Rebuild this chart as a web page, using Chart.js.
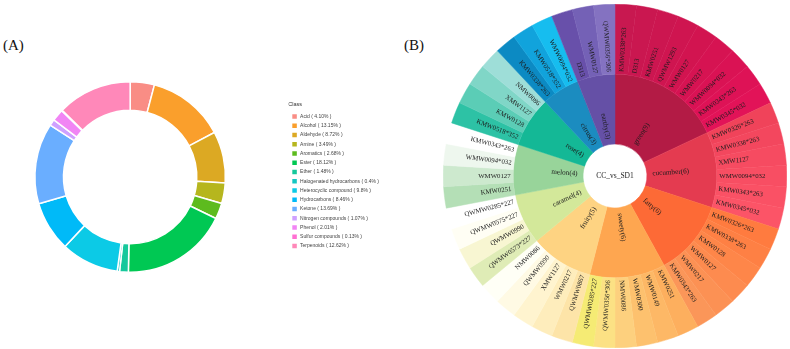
<!DOCTYPE html>
<html>
<head>
<meta charset="utf-8">
<script src="https://cdn.jsdelivr.net/npm/chart.js@4.4.1/dist/chart.umd.min.js"></script>
<style>
  html, body { margin: 0; padding: 0; background: #fff; }
  body { width: 790px; height: 349px; position: relative; overflow: hidden; }
  .tag { position: absolute; font-family: 'Liberation Serif', 'Times New Roman', serif; font-size: 15px; color: #111; line-height: 1; }
  #boxA { position: absolute; left: -28px; top: 0; width: 440px; height: 349px; }
  #boxB { position: absolute; left: 443px; top: 4px; width: 344px; height: 344px; }
</style>
</head>
<body>
<div class="tag" style="left:3px;top:38px">(A)</div>
<div class="tag" style="left:404px;top:38px">(B)</div>
<div id="boxA"><canvas id="classChart"></canvas></div>
<div id="boxB"><canvas id="sunChart"></canvas></div>

<script>
// ===== (A) compound classes =====
const classNames = ["Acid", "Alcohol", "Aldehyde", "Amine", "Aromatics", "Ester", "Ether",
    "Halogenated hydrocarbons", "Heterocyclic compound", "Hydrocarbons", "Ketone",
    "Nitrogen compounds", "Phenol", "Sulfur compounds", "Terpenoids"];
const classPct = ["4.10", "13.15", "8.72", "3.49", "2.68", "18.12", "1.48",
    "0.4", "9.8", "8.46", "13.69", "1.07", "2.01", "0.13", "12.62"];
const classColors = ["#F98D85", "#FA9F2C", "#DCA923", "#B6B61E", "#5DBB1E", "#00C853", "#16C89C",
    "#14C7C2", "#0CCAE6", "#00BAF8", "#6AAEFF", "#CFA0FF", "#F185F4", "#FF70D2", "#FF88B9"];

// ===== (B) sunburst: odour groups (inner) and compounds (outer) =====
const groupNames = ["green", "cucumber", "fatty", "sweety", "fruity", "caramel", "melon", "rose", "citrus", "earthy"];
const groupCounts = [9, 6, 6, 6, 5, 4, 4, 4, 3, 3];
const groupColors = ["#B31B45", "#E43B50", "#FD6A36", "#FEA650", "#FED382", "#D3E89A", "#98D49A", "#14B896", "#1B8CC0", "#6550A6"];

const compoundNames = [
    // green
    "KMW0338*263", "D313", "KMW0251", "QWMW1293", "WMW0127", "WMW0217", "WMW0094*032", "KMW0343*263", "KMW0345*032",
    // cucumber
    "KMW0326*263", "KMW0338*263", "XMW1127", "WMW0094*032", "KMW0343*263", "KMW0345*032",
    // fatty
    "KMW0326*263", "KMW0338*263", "KMW0128", "WMW0127", "WMW0217", "KMW0343*263",
    // sweety
    "KMW0251", "WMW0149", "WMW0300", "NMW0086", "QWMW0356*306", "QWMW0285*227",
    // fruity
    "QWMW0867", "WMW0217", "XMW1127", "QWMW0990", "NMW0086",
    // caramel
    "QWMW0573*227", "QWMW0990", "QWMW0575*227", "QWMW0285*227",
    // melon
    "KMW0251", "WMW0127", "WMW0094*032", "KMW0343*263",
    // rose
    "KMW0518*352", "KMW0128", "XMW1127", "NMW0086",
    // citrus
    "KMW0338*263", "KMW0518*352", "WMW0094*032",
    // earthy
    "D313", "WMW0127", "QWMW0356*306"
];
const compoundValues = [1, 1, 1, 1, 1, 1, 1, 1, 1,  1, 1, 1, 1, 1, 1,  1, 1, 1, 1, 1, 1,
    1, 1, 1, 1, 1, 1,  1, 1, 1, 1, 1,  1, 1, 1, 1,  1, 1, 1, 1,  1, 1, 1, 1,  1, 1, 1,  1, 1, 1];
const compoundColors = [
    "#C81850", "#CA1750", "#CC1650", "#CF1550", "#D21450", "#D61352", "#DA1254", "#DE1256", "#E21358",
    "#F0435A", "#F3475E", "#F64B61", "#F84E63", "#FA5165", "#FC5467",
    "#FF7B3F", "#FE8044", "#FE8649", "#FD8B4F", "#FC9154", "#FB9659",
    "#FDAF5E", "#FDB866", "#FDC16E", "#FDD07E", "#FCE184", "#F5EB74",
    "#FDE4A8", "#FEEDBC", "#FFF4CF", "#FFFAE4", "#FFFFF6",
    "#DFECB6", "#F8F6D2", "#FFFEF4", "#FFFFFF",
    "#B4DFB6", "#CDE9CE", "#EEF7EE", "#FFFFFF",
    "#2DC2A5", "#5BCDB6", "#80D6C7", "#9EDED8",
    "#0C8AC3", "#11A3DC", "#16BDEF",
    "#6850AA", "#7461B6", "#8472C1"
];

// ===== (A) doughnut =====
new Chart(document.getElementById("classChart"), {
    type: "doughnut",
    data: {
        labels: classNames.map((n, i) => `${n} ( ${classPct[i]}% )`),
        datasets: [{
            data: classPct.map(Number),
            backgroundColor: classColors,
            borderColor: "#ffffff",
            borderWidth: 1.5
        }]
    },
    options: {
        responsive: true,
        maintainAspectRatio: false,
        animation: false,
        cutout: "70%",
        layout: { padding: { left: 0, right: 23, top: 81, bottom: 76 } },
        plugins: {
            tooltip: { enabled: false },
            legend: {
                position: "right",
                align: "center",
                title: { display: true, text: "Class", color: "#333", font: { family: "'Liberation Sans', Arial, sans-serif", size: 5.5 }, padding: { top: 0, bottom: 2 }, position: "start" },
                labels: {
                    boxWidth: 6, boxHeight: 6, padding: 3.25, color: "#444",
                    font: { family: "'Liberation Sans', Arial, sans-serif", size: 5 }
                }
            }
        }
    }
});

// ===== (B) sunburst labels =====
const sunLabels = {
    id: "sunLabels",
    afterDatasetsDraw(chart) {
        const { ctx } = chart;
        const rings = [
            { index: 0, texts: compoundNames, size: 6.8, gap: 2.5 },
            { index: 1, texts: groupNames.map((g, i) => `${g}(${groupCounts[i]})`), size: 7.2, gap: 5.5 }
        ];
        ctx.save();
        ctx.fillStyle = "#1c1c1c";
        ctx.textBaseline = "middle";
        rings.forEach(ring => {
            ctx.font = `${ring.size}px 'Liberation Serif', 'Times New Roman', serif`;
            chart.getDatasetMeta(ring.index).data.forEach((arc, i) => {
                const p = arc.getProps(["x", "y", "startAngle", "endAngle", "innerRadius"], true);
                const mid = (p.startAngle + p.endAngle) / 2;
                const r = p.innerRadius + ring.gap;
                ctx.save();
                ctx.translate(p.x, p.y);
                if (Math.cos(mid) >= -1e-6) {
                    ctx.rotate(mid);
                    ctx.textAlign = "left";
                    ctx.fillText(ring.texts[i], r, 0);
                } else {
                    ctx.rotate(mid + Math.PI);
                    ctx.textAlign = "right";
                    ctx.fillText(ring.texts[i], -r, 0);
                }
                ctx.restore();
            });
        });
        // centre text
        const c = chart.getDatasetMeta(1).data[0];
        ctx.font = "7.5px 'Liberation Serif', 'Times New Roman', serif";
        ctx.textAlign = "center";
        ctx.fillText("CC_vs_SD1", c.x, c.y);
        ctx.restore();
    }
};

new Chart(document.getElementById("sunChart"), {
    type: "doughnut",
    data: {
        datasets: [
            { data: compoundValues, backgroundColor: compoundColors, borderColor: compoundColors, borderWidth: 0.5 },
            { data: groupCounts, backgroundColor: groupColors, borderColor: groupColors, borderWidth: 0.5 }
        ]
    },
    options: {
        responsive: true,
        maintainAspectRatio: false,
        animation: false,
        cutout: "18.6%",
        layout: { padding: 0 },
        plugins: { legend: { display: false }, tooltip: { enabled: false } }
    },
    plugins: [sunLabels]
});
</script>
</body>
</html>
